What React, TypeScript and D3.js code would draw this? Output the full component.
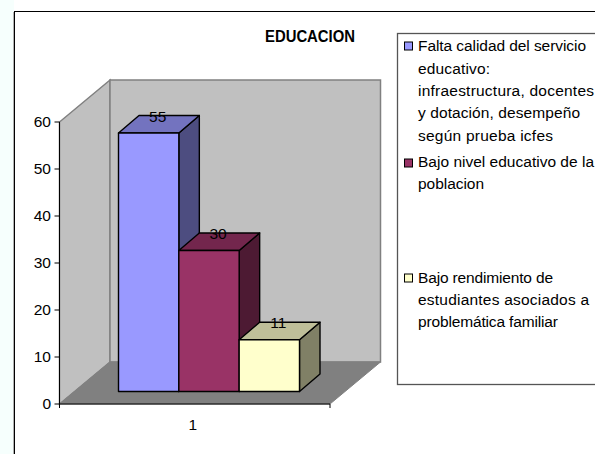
import React from 'react';
import * as d3 from 'd3';

const title = 'EDUCACION';
const category = ['1'];
const seriesValues = [55, 30, 11];
const seriesColors = ['#9999ff', '#993366', '#ffffcc'];
const yTicks = [0, 10, 20, 30, 40, 50, 60];
const legendItems = [
  ['Falta calidad del servicio', 'educativo:', 'infraestructura, docentes', 'y dotación, desempeño', 'según prueba icfes'],
  ['Bajo nivel educativo de la', 'poblacion'],
  ['Bajo rendimiento de', 'estudiantes asociados a', 'problemática familiar'],
];
// the original text is wider than Liberation at the same height, so line widths are kept
const legendWidths = [
  [168, 72, 176, 162, 135],
  [176, 66],
  [135, 171, 140],
];
const legendBaselines = [
  [51, 73.5, 96, 118, 140.5],
  [167, 189],
  [283, 305, 327],
];
const legendMarkers = [46, 163, 278];

const font = 'Liberation Sans, Arial, sans-serif';

const App = () => {
  const y = d3.scaleLinear().domain([0, 60]).range([404, 122]);
  const x = d3.scaleBand<string>().domain(category).range([59.5, 330]);
  const bandX = d3.scaleBand<number>().domain(d3.range(seriesValues.length)).range([118.5, 299.5]);

  // 3D offsets
  const wall = { dx: 50.5, dy: -42 };
  const bar = { dx: 20.5, dy: -17.5 };
  const barBase = -12.5; // bars sit this far back on the floor

  const poly = (pts: [number, number][]) => d3.line()(pts) + 'Z';
  const x0 = x.range()[0];
  const x1 = x.range()[1];

  const shade = (c: string, k: number) => {
    const r = d3.rgb(c);
    return d3.rgb(r.r * k, r.g * k, r.b * k).formatHex();
  };

  return (
    <svg
      width={595}
      height={454}
      style={{ position: 'absolute', left: 0, top: 0, background: '#fff' }}
      fontFamily={font}
    >
      {/* pale tint left of the frame */}
      <rect x={0} y={0} width={14} height={454} fill="#f6fffd" />
      <line x1={13.5} x2={13.5} y1={12} y2={454} stroke="#b0b0b0" />

      {/* outer frame runs off the page on the right and bottom */}
      <rect x={14.5} y={11.5} width={640} height={500} fill="#fff" stroke="#000" strokeWidth={1} />

      <text x={310} y={41.5} textAnchor="middle" fontSize={16} fontWeight="bold" textLength={90} lengthAdjust="spacingAndGlyphs">
        {title}
      </text>

      {/* walls */}
      <path
        d={poly([[x0, y(0)], [x0, y(60)], [x0 + wall.dx, y(60) + wall.dy], [x0 + wall.dx, y(0) + wall.dy]])}
        fill="#c0c0c0" stroke="#808080" strokeWidth={1.5}
      />
      <path
        d={poly([[x0 + wall.dx, y(0) + wall.dy], [x0 + wall.dx, y(60) + wall.dy], [x1 + wall.dx, y(60) + wall.dy], [x1 + wall.dx, y(0) + wall.dy]])}
        fill="#c0c0c0" stroke="#808080" strokeWidth={1.5}
      />
      <path
        d={poly([[x0, y(0)], [x1, y(0)], [x1 + wall.dx, y(0) + wall.dy], [x0 + wall.dx, y(0) + wall.dy]])}
        fill="#808080" stroke="#808080" strokeWidth={1}
      />

      {/* axes */}
      <line x1={x0} x2={x0} y1={y(60)} y2={y(0) + 4} stroke="#000" />
      <line x1={x0} x2={x1} y1={y(0)} y2={y(0)} stroke="#000" />
      <line x1={x1} x2={x1} y1={y(0)} y2={y(0) + 4} stroke="#000" />
      {yTicks.map(t => (
        <g key={t}>
          <line x1={x0 - 5} x2={x0} y1={y(t)} y2={y(t)} stroke="#000" />
          <text x={x0 - 8.5} y={y(t) + 5} textAnchor="end" fontSize={15.5} fill="#000">{t}</text>
        </g>
      ))}
      <text x={x.bandwidth() / 2 + x0 - 2} y={430} textAnchor="middle" fontSize={15.5}>{category[0]}</text>

      {seriesValues.map((v, i) => {
        const l = bandX(i)!;
        const r = l + bandX.bandwidth();
        const b = y(0) + barBase;
        const t = y(v) + barBase;
        return (
          <g key={i} stroke="#000" strokeWidth={1.4} strokeLinejoin="round">
            <path d={poly([[r, b], [r, t], [r + bar.dx, t + bar.dy], [r + bar.dx, b + bar.dy]])} fill={shade(seriesColors[i], 0.5)} />
            <path d={poly([[l, t], [r, t], [r + bar.dx, t + bar.dy], [l + bar.dx, t + bar.dy]])} fill={shade(seriesColors[i], 0.75)} />
            <path d={poly([[l, b], [r, b], [r, t], [l, t]])} fill={seriesColors[i]} />
          </g>
        );
      })}
      {seriesValues.map((v, i) => (
        <text key={i} x={bandX(i)! + bandX.bandwidth() / 2 + 9} y={y(v) + barBase - 11.5} textAnchor="middle" fontSize={15.5} fill="#000">{v}</text>
      ))}

      {/* legend */}
      <rect x={397.5} y={33.5} width={240} height={351} fill="#fff" stroke="#555" strokeWidth={1.3} />
      {legendItems.map((lines, i) => (
        <g key={i}>
          <rect x={404.5} y={legendMarkers[i] - 4} width={8} height={8} fill={seriesColors[i]} stroke="#000" strokeWidth={1} />
          {lines.map((s, j) => (
            <text key={j} x={418} y={legendBaselines[i][j]} fontSize={15.5} fill="#000" textLength={legendWidths[i][j]} lengthAdjust="spacing">{s}</text>
          ))}
        </g>
      ))}
    </svg>
  );
};

export default App;
